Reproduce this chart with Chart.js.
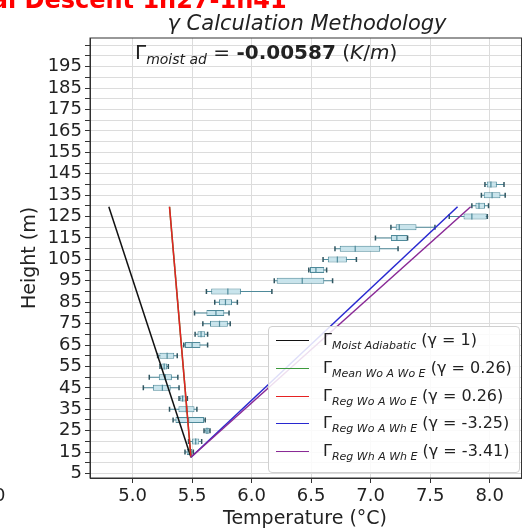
<!DOCTYPE html>
<html>
<head>
<meta charset="utf-8">
<script src="https://cdn.jsdelivr.net/npm/chart.js@4/dist/chart.umd.min.js"></script>
<style>
  body { margin: 0; background: #fff; font-family: 'DejaVu Sans', sans-serif; }
  #wrap { position: relative; width: 527px; height: 528px; overflow: hidden; }
  canvas { position: absolute; left: 0; top: 0; }
  .txt { position: absolute; white-space: nowrap; color: #222; line-height: 1; }
  #sup { left: -50px; top: -12px; font-size: 24px; font-weight: bold; color: #f00; }
  #title { left: 307px; top: 13px; font-size: 21px; font-style: italic; transform: translateX(-50%); }
  #ann { left: 135px; top: 42px; font-size: 20px; }
  #ann sub { font-size: 14px; font-style: italic; vertical-align: -5px; }
  #ylab { left: 28px; top: 258px; font-size: 19px; transform: translate(-50%, -50%) rotate(-90deg); }
  #xlab { left: 305px; top: 517px; font-size: 19px; transform: translate(-50%, -50%); }
  #other { left: -6px; top: 486px; font-size: 18px; }
  #legend { position: absolute; left: 268px; top: 326px; width: 250px; height: 145px;
    border: 1px solid #d0d0d0; border-radius: 4px; background: rgba(255,255,255,0.85); }
  .sample { position: absolute; left: 7px; width: 33px; height: 0; }
  .lab { position: absolute; left: 54px; font-size: 16px; line-height: 1; white-space: nowrap; color: #222; }
  .lab sub { font-size: 11px; font-style: italic; vertical-align: -4px; }
</style>
</head>
<body>
<div id="wrap">
  <canvas id="chart" width="527" height="528"></canvas>
  <div class="txt" id="sup">Final Descent 1h27-1h41</div>
  <div class="txt" id="title">γ Calculation Methodology</div>
  <div class="txt" id="ann">Γ<sub>moist ad</sub> = <b>-0.00587</b> (<i>K</i>/<i>m</i>)</div>
  <div class="txt" id="ylab">Height (m)</div>
  <div class="txt" id="xlab">Temperature (°C)</div>
  <div class="txt" id="other">0</div>
  <div id="legend"></div>
</div>
<script>
// box plot rows (height in m, temperatures in °C)
const heights   = [15, 20, 25, 30, 35, 40, 45, 50, 55, 60, 65, 70, 75, 80, 85, 90, 95, 100, 105, 110, 115, 120, 125, 130, 135, 140];
const whiskLow  = [5.44, 5.47, 5.60, 5.34, 5.31, 5.39, 5.09, 5.14, 5.23, 5.21, 5.43, 5.525, 5.59, 5.52, 5.69, 5.62, 6.19, 6.48, 6.60, 6.70, 7.04, 7.17, 7.66, 7.85, 7.93, 7.96];
const q1        = [5.455, 5.50, 5.61, 5.36, 5.385, 5.40, 5.17, 5.22, 5.24, 5.225, 5.44, 5.545, 5.65, 5.62, 5.725, 5.66, 6.21, 6.49, 6.64, 6.74, 7.17, 7.21, 7.78, 7.88, 7.95, 7.975];
const medians   = [5.475, 5.53, 5.625, 5.47, 5.45, 5.42, 5.25, 5.275, 5.265, 5.29, 5.50, 5.575, 5.73, 5.70, 5.78, 5.80, 6.425, 6.54, 6.72, 6.87, 7.22, 7.24, 7.85, 7.91, 8.02, 8.01];
const q3        = [5.50, 5.56, 5.645, 5.60, 5.52, 5.45, 5.32, 5.33, 5.29, 5.35, 5.57, 5.61, 5.80, 5.77, 5.835, 5.91, 6.61, 6.61, 6.80, 7.08, 7.31, 7.385, 7.975, 7.96, 8.09, 8.06];
const whiskHigh = [5.51, 5.58, 5.65, 5.61, 5.54, 5.46, 5.39, 5.38, 5.30, 5.375, 5.63, 5.63, 5.82, 5.81, 5.88, 6.17, 6.68, 6.63, 6.88, 7.23, 7.31, 7.54, 7.98, 7.99, 8.13, 8.12];

// lapse-rate lines: all start at the same base point
const baseTemp = 5.49, baseHeight = 12.6, topHeight = 129.6;
const lineNames  = ['Moist Adiabatic', 'Mean Wo A Wo E', 'Reg Wo A Wo E', 'Reg Wo A Wh E', 'Reg Wh A Wh E'];
const gammas     = ['1', '0.26', '0.26', '-3.25', '-3.41'];
const topTemps   = [4.80, 5.31, 5.31, 7.73, 7.84];
const lineColors = ['#111111', '#3c9a3c', '#e52222', '#2828d0', '#8a2a96'];

const xTicks = [5.0, 5.5, 6.0, 6.5, 7.0, 7.5, 8.0];
const yTicks = [5, 10, 15, 20, 25, 30, 35, 40, 45, 50, 55, 60, 65, 70, 75, 80, 85, 90, 95, 100,
  105, 110, 115, 120, 125, 130, 135, 140, 145, 150, 155, 160, 165, 170, 175, 180, 185, 190, 195, 200, 205];
const yLabels = [5, 15, 25, 35, 45, 55, 65, 75, 85, 95, 105, 115, 125, 135, 145, 155, 165, 175, 185, 195];

const boxFace = '#c8e4ec', boxEdge = '#4f8a9a', capColor = '#2f5560';
const font = { family: 'DejaVu Sans', size: 18 };

const lineSets = lineNames.map((name, i) => ({
  label: name,
  data: [{ x: baseTemp, y: baseHeight }, { x: topTemps[i], y: topHeight }],
  showLine: true,
  borderColor: lineColors[i],
  borderWidth: 1.5,
  pointRadius: 0,
  order: lineNames.length - 1 - i
}));

const boxSets = [
  {
    type: 'bar', label: 'whiskers', indexAxis: 'y', grouped: false, maxBarThickness: 1,
    data: heights.map((h, i) => ({ y: h, x: [whiskLow[i], whiskHigh[i]] })),
    backgroundColor: boxEdge, borderWidth: 0, order: 9
  },
  {
    type: 'bar', label: 'boxes', indexAxis: 'y', grouped: false, maxBarThickness: 6,
    data: heights.map((h, i) => ({ y: h, x: [q1[i], q3[i]] })),
    backgroundColor: boxFace, borderColor: boxEdge, borderWidth: 1, borderSkipped: false, order: 8
  },
  {
    label: 'medians',
    data: heights.map((h, i) => ({ x: medians[i], y: h })),
    pointStyle: 'line', pointRotation: 90, pointRadius: 3,
    pointBorderColor: boxEdge, pointBorderWidth: 1.2, order: 7
  },
  {
    label: 'caps',
    data: heights.flatMap((h, i) => [{ x: whiskLow[i], y: h }, { x: whiskHigh[i], y: h }]),
    pointStyle: 'line', pointRotation: 90, pointRadius: 2.5,
    pointBorderColor: capColor, pointBorderWidth: 1.5, order: 6
  }
];

const frame = {
  id: 'frame',
  afterDraw(chart) {
    const { ctx, chartArea: a } = chart;
    ctx.save();
    ctx.strokeStyle = '#333';
    ctx.lineWidth = 1;
    ctx.strokeRect(a.left, a.top, a.right - a.left, a.bottom - a.top);
    ctx.restore();
  }
};

new Chart(document.getElementById('chart'), {
  type: 'scatter',
  data: { datasets: [...lineSets, ...boxSets] },
  options: {
    responsive: false,
    animation: false,
    events: [],
    layout: { padding: { top: 38, right: 2, left: 0, bottom: 0 } },
    plugins: { legend: { display: false }, tooltip: { enabled: false } },
    scales: {
      x: {
        type: 'linear', min: 4.642, max: 8.267, offset: false,
        afterBuildTicks: s => { s.ticks = xTicks.map(v => ({ value: v })); },
        afterFit: s => { s.height = 50; },
        ticks: { font, color: '#222', padding: 3, maxRotation: 0, autoSkip: false, callback: v => v.toFixed(1) },
        grid: { offset: false, color: '#dcdcdc', tickColor: '#333', tickLength: 5 },
        border: { color: '#333' }
      },
      y: {
        type: 'linear', min: 2.9, max: 208.4, offset: false,
        afterBuildTicks: s => { s.ticks = yTicks.map(v => ({ value: v })); },
        afterFit: s => { s.width = 90; },
        ticks: { font, color: '#222', padding: 3, autoSkip: false, callback: v => (yLabels.includes(v) ? String(v) : '') },
        grid: { offset: false, color: '#dcdcdc', tickColor: '#333', tickLength: 5 },
        border: { color: '#333' }
      }
    }
  },
  plugins: [frame]
});

// legend with subscripts
const legend = document.getElementById('legend');
lineNames.forEach((name, i) => {
  const cy = 14 + i * 27.8;
  const s = document.createElement('div');
  s.className = 'sample';
  s.style.top = (cy - 1) + 'px';
  s.style.borderTop = '1.5px solid ' + lineColors[i];
  legend.appendChild(s);
  const t = document.createElement('div');
  t.className = 'lab';
  t.style.top = (cy - 9) + 'px';
  t.innerHTML = 'Γ<sub>' + name + '</sub> (γ = ' + gammas[i] + ')';
  legend.appendChild(t);
});
</script>
</body>
</html>
